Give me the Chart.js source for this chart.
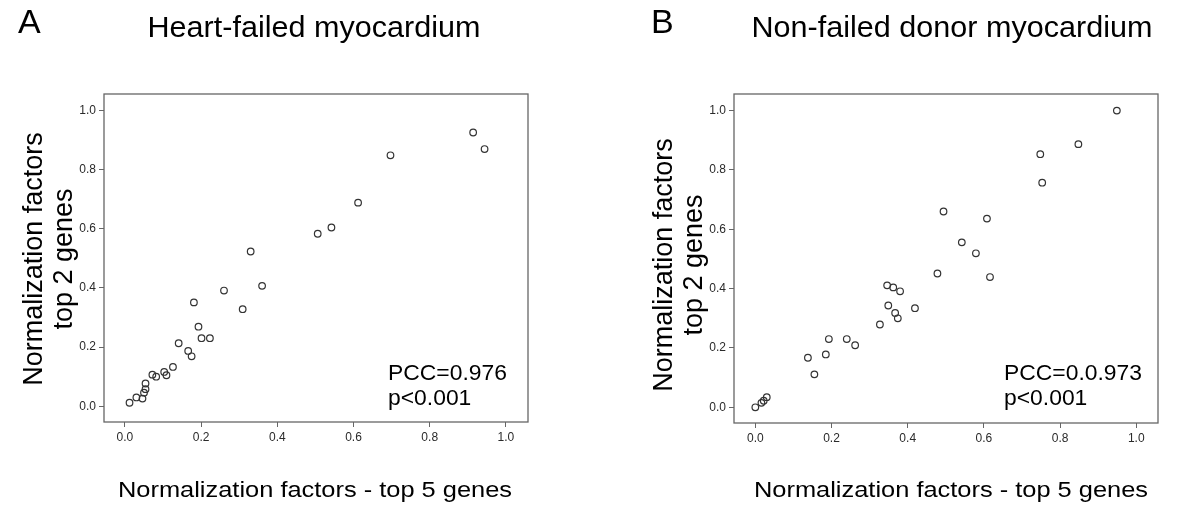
<!DOCTYPE html>
<html>
<head>
<meta charset="utf-8">
<script src="https://cdn.jsdelivr.net/npm/chart.js@4/dist/chart.umd.min.js"></script>
<style>
  html, body { margin: 0; padding: 0; background: #fff; }
  #wrap { position: relative; width: 1200px; height: 509px; overflow: hidden; }
  canvas { position: absolute; top: 0; }
  #chartA { left: 0; }
  #chartB { left: 600px; }
</style>
</head>
<body>
<div id="wrap">
  <canvas id="chartA" width="600" height="509"></canvas>
  <canvas id="chartB" width="600" height="509"></canvas>
</div>
<script>
// Valores (fatores de normalização)
const tickValues = [0, 0.2, 0.4, 0.6, 0.8, 1.0];

// A - miocárdio com insuficiência cardíaca
const failedTop5 = [0.012, 0.030, 0.046, 0.050, 0.054, 0.054, 0.072, 0.082, 0.103, 0.109,
  0.126, 0.141, 0.166, 0.175, 0.181, 0.193, 0.201, 0.223, 0.260, 0.309,
  0.330, 0.360, 0.506, 0.542, 0.612, 0.697, 0.914, 0.944];
const failedTop2 = [0.012, 0.030, 0.026, 0.046, 0.058, 0.077, 0.107, 0.100, 0.116, 0.105,
  0.133, 0.213, 0.187, 0.169, 0.351, 0.269, 0.230, 0.230, 0.391, 0.328,
  0.523, 0.407, 0.583, 0.604, 0.688, 0.848, 0.925, 0.869];

// B - miocárdio de doador sem insuficiência
const donorTop5 = [0.000, 0.016, 0.022, 0.030, 0.138, 0.155, 0.185, 0.193, 0.240, 0.262,
  0.327, 0.346, 0.362, 0.380, 0.349, 0.367, 0.374, 0.419, 0.478, 0.494,
  0.542, 0.579, 0.608, 0.616, 0.748, 0.753, 0.848, 0.949];
const donorTop2 = [0.000, 0.015, 0.022, 0.034, 0.167, 0.111, 0.178, 0.230, 0.230, 0.209,
  0.279, 0.411, 0.404, 0.391, 0.343, 0.318, 0.300, 0.334, 0.451, 0.660,
  0.556, 0.519, 0.636, 0.439, 0.853, 0.757, 0.887, 1.000];

const FONT = '"Liberation Sans", Arial, Helvetica, sans-serif';

// Desenha texto com escala horizontal e rotação opcionais
function drawText(ctx, text, x, y, size, align, sx, rot) {
    ctx.save();
    ctx.translate(x, y);
    if (rot) ctx.rotate(rot);
    ctx.scale(sx || 1, 1);
    ctx.font = size + 'px ' + FONT;
    ctx.textAlign = align;
    ctx.textBaseline = 'alphabetic';
    ctx.fillStyle = '#000';
    ctx.fillText(text, 0, 0);
    ctx.restore();
}

// Plugin: moldura do gráfico e textos do painel
const panelText = {
    id: 'panelText',
    afterDraw(chart, args, opts) {
        const ctx = chart.ctx;
        const a = chart.chartArea;
        ctx.save();
        ctx.strokeStyle = '#666';
        ctx.lineWidth = 1.3;
        ctx.strokeRect(a.left, a.top, a.right - a.left, a.bottom - a.top);
        ctx.restore();

        drawText(ctx, opts.letter, opts.letterX, 33, 34, 'left');
        drawText(ctx, opts.title, opts.titleX, 37, 29, 'center', 1.054);
        drawText(ctx, 'Normalization factors', opts.yTitleX, opts.yTitleY, 27, 'center', 1, -Math.PI / 2);
        drawText(ctx, 'top 2 genes', opts.yTitleX + 30, opts.yTitleY, 27, 'center', 1, -Math.PI / 2);
        drawText(ctx, 'Normalization factors - top 5 genes', opts.xTitleX, 497, 22, 'center', 1.155);
        drawText(ctx, opts.pcc, opts.pccX, 380, 22, 'left', 1.04);
        drawText(ctx, 'p<0.001', opts.pccX, 405, 22, 'left', 1.04);
    }
};

function makePanel(canvasId, xs, ys, xRange, yRange, layout, text) {
    const points = xs.map((x, i) => ({ x: x, y: ys[i] }));
    const axisCommon = {
        type: 'linear',
        afterBuildTicks: axis => { axis.ticks = tickValues.map(v => ({ value: v })); },
        grid: { drawOnChartArea: false, drawTicks: true, tickLength: 5, color: '#666', tickColor: '#666', lineWidth: 1 },
        border: { display: false },
        ticks: {
            padding: 3,
            color: '#2a2a2a',
            font: { family: FONT, size: 12 },
            callback: v => Number(v).toFixed(1)
        }
    };
    return new Chart(document.getElementById(canvasId), {
        type: 'scatter',
        data: {
            datasets: [{
                data: points,
                pointStyle: 'circle',
                pointRadius: 3.3,
                pointBorderWidth: 1.2,
                borderColor: '#333',
                backgroundColor: 'rgba(0,0,0,0)'
            }]
        },
        options: {
            responsive: false,
            animation: false,
            layout: { padding: { top: layout.top, left: 0, right: layout.right, bottom: 0 } },
            scales: {
                x: Object.assign({}, axisCommon, {
                    min: xRange[0], max: xRange[1],
                    afterFit: s => { s.height = layout.xHeight; }
                }),
                y: Object.assign({}, axisCommon, {
                    min: yRange[0], max: yRange[1],
                    afterFit: s => { s.width = layout.yWidth; }
                })
            },
            plugins: {
                legend: { display: false },
                tooltip: { enabled: false },
                panelText: text
            }
        },
        plugins: [panelText]
    });
}

makePanel('chartA', failedTop5, failedTop2, [-0.055, 1.058], [-0.053, 1.055],
    { top: 94, right: 72, xHeight: 87, yWidth: 104 },
    { letter: 'A', letterX: 18, title: 'Heart-failed myocardium', titleX: 314,
      yTitleX: 42, yTitleY: 259, xTitleX: 315, pcc: 'PCC=0.976', pccX: 388 });

makePanel('chartB', donorTop5, donorTop2, [-0.056, 1.057], [-0.053, 1.056],
    { top: 94, right: 42, xHeight: 86, yWidth: 134 },
    { letter: 'B', letterX: 51, title: 'Non-failed donor myocardium', titleX: 352,
      yTitleX: 72, yTitleY: 265, xTitleX: 351, pcc: 'PCC=0.0.973', pccX: 404 });
</script>
</body>
</html>
